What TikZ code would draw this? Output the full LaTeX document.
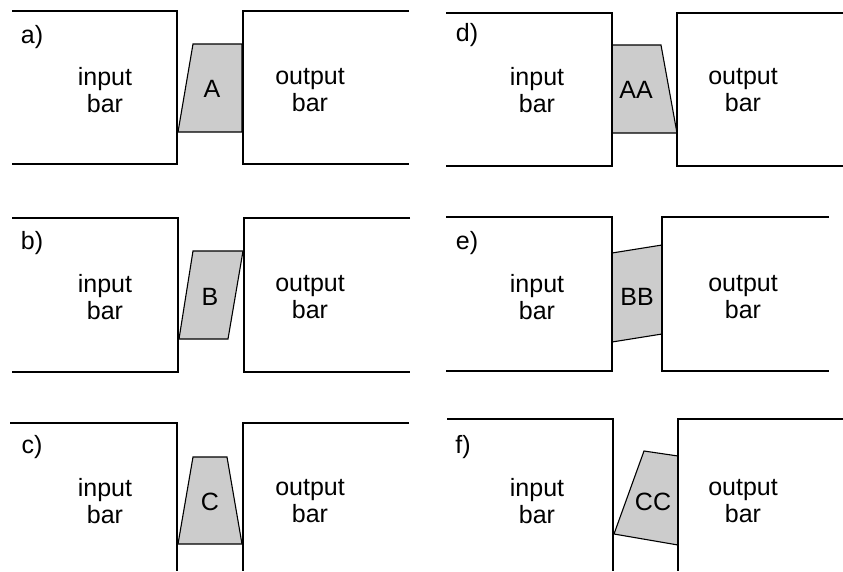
\documentclass[tikz,border=0pt]{standalone}
\usepackage{fontspec}
\setmainfont{Liberation Sans}
\begin{document}
\begin{tikzpicture}[x=1pt,y=-1pt,
  bar/.style={line width=1.6pt, line join=miter},
  piece/.style={draw, line width=1.1pt, fill=black!20, line join=miter},
  lbl/.style={font=\fontsize{25}{27}\selectfont, align=center, inner sep=0pt},
  tag/.style={font=\fontsize{25}{27}\selectfont, inner sep=0pt}]
\useasboundingbox (0,0) rectangle (843,571);

% connecting pieces
\draw[piece] (193,44) -- (242,44) -- (242,132) -- (178,132) -- cycle;
\draw[piece] (193,251) -- (243,251) -- (228,339) -- (179,339) -- cycle;
\draw[piece] (193,457) -- (227,457) -- (242,544) -- (178,544) -- cycle;
\draw[piece] (612,45) -- (661,45) -- (677,133) -- (612,133) -- cycle;
\draw[piece] (612,253) -- (662,245) -- (662,334) -- (612,342) -- cycle;
\draw[piece] (644,451) -- (678,456) -- (678,545) -- (614,534) -- cycle;

% bars, panel a
\draw[bar] (12,11) -- (177,11) -- (177,164) -- (12,164);
\draw[bar] (409,11) -- (243,11) -- (243,164) -- (409,164);
% panel b
\draw[bar] (12,218) -- (178,218) -- (178,372) -- (12,372);
\draw[bar] (410,218) -- (244,218) -- (244,372) -- (410,372);
% panel c
\draw[bar] (10,423) -- (177,423) -- (177,571);
\draw[bar] (409,423) -- (243,423) -- (243,571);
% panel d
\draw[bar] (446,13) -- (612,13) -- (612,166) -- (446,166);
\draw[bar] (843,13) -- (677,13) -- (677,166) -- (843,166);
% panel e
\draw[bar] (446,217) -- (612,217) -- (612,371) -- (446,371);
\draw[bar] (829,217) -- (662,217) -- (662,371) -- (829,371);
% panel f
\draw[bar] (447,419) -- (613,419) -- (613,571);
\draw[bar] (843,419) -- (678,419) -- (678,571);

% labels
\node[tag] (ta) at (32,37) {a)};
\node[lbl] (ina) at (105,90) {input\\bar};
\node[lbl] (pa) at (212,89) {A};
\node[lbl] (outa) at (310,90) {output\\bar};

\node[tag] (tb) at (32,243) {b)};
\node[lbl] (inb) at (105,297) {input\\bar};
\node[lbl] (pb) at (210,297) {B};
\node[lbl] (outb) at (310,297) {output\\bar};

\node[tag] (tc) at (32,447) {c)};
\node[lbl] (inc) at (105,501) {input\\bar};
\node[lbl] (pc) at (210,502) {C};
\node[lbl] (outc) at (310,501) {output\\bar};

\node[tag] (td) at (467,35) {d)};
\node[lbl] (ind) at (537,90) {input\\bar};
\node[lbl] (pd) at (636,90) {AA};
\node[lbl] (outd) at (743,90) {output\\bar};

\node[tag] (te) at (467,243) {e)};
\node[lbl] (ine) at (537,297) {input\\bar};
\node[lbl] (pe) at (637,297) {BB};
\node[lbl] (oute) at (743,297) {output\\bar};

\node[tag] (tf) at (463,447) {f)};
\node[lbl] (inf) at (537,501) {input\\bar};
\node[lbl] (pf) at (653,502) {CC};
\node[lbl] (outf) at (743,501) {output\\bar};
\end{tikzpicture}
\end{document}
